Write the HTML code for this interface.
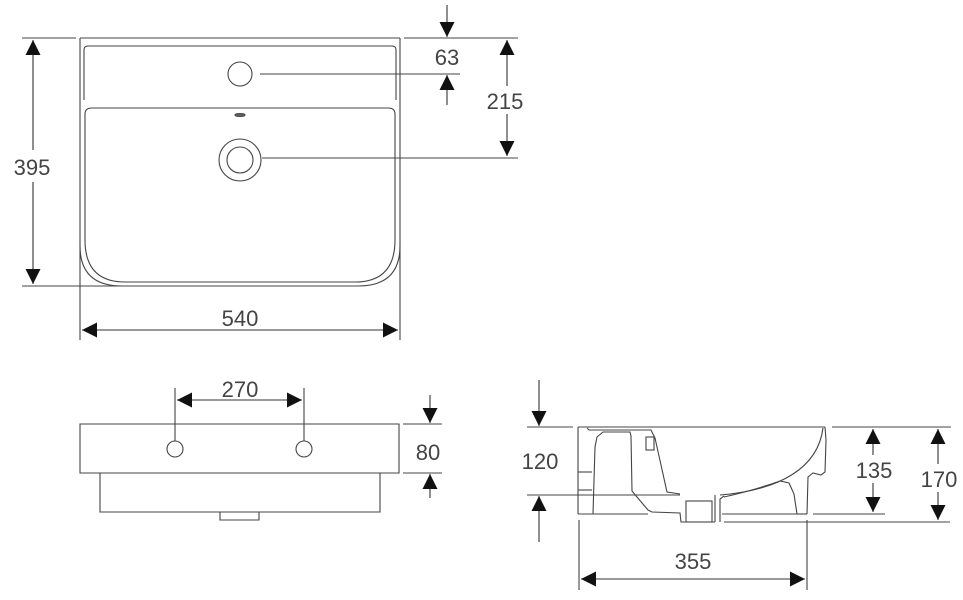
<!DOCTYPE html>
<html><head><meta charset="utf-8"><style>
html,body{margin:0;padding:0;background:#fff;}
svg{display:block}
text{font-family:"Liberation Sans Narrow","Liberation Sans",sans-serif;font-size:22px;fill:#444;text-anchor:middle;}
</style></head><body>
<svg width="963" height="600" viewBox="0 0 963 600" xmlns="http://www.w3.org/2000/svg">
<defs>
<marker id="b" viewBox="0 0 10 10" refX="10" refY="5" markerWidth="18" markerHeight="15" markerUnits="userSpaceOnUse" orient="auto-start-reverse">
<path d="M0,0 L10,5 L0,10 Z" fill="#111"/></marker>
</defs>
<g fill="none" stroke="#444" stroke-width="1.1">
<!-- top view -->
<line x1="80" y1="38" x2="80" y2="340"/>
<line x1="400" y1="38" x2="400" y2="340"/>
<line x1="80" y1="38" x2="400" y2="38"/>
<path d="M80,246 Q80,286 122,286 L358,286 Q400,286 400,246"/>
<path d="M84,50 Q84,46 88,46 L392,46 Q396,46 396,50 L396,100"/>
<line x1="84" y1="50" x2="84" y2="100"/>
<path d="M85,114 Q85,108 92,108 L388,108 Q395,108 395,114 L395,240 Q395,282 355,282 L125,282 Q85,282 85,240 Z"/>
<circle cx="240" cy="74" r="12"/>
<circle cx="240" cy="160" r="21"/>
<circle cx="240" cy="160" r="13"/>
<ellipse cx="240" cy="115" rx="5" ry="1.5" fill="#666"/>
<line x1="22" y1="38" x2="76" y2="38"/>
<line x1="22" y1="286" x2="190" y2="286"/>
<line x1="404" y1="38" x2="518" y2="38"/>
<line x1="262" y1="158" x2="518" y2="158"/>
<line x1="260" y1="74" x2="460" y2="74"/>
<!-- front view -->
<path d="M80,424 L399,424 L399,473 L80,473 Z"/>
<path d="M100,473 L100,512 L380,512 L380,473"/>
<path d="M220,512 L220,520 L259,520 L259,512"/>
<circle cx="175" cy="449" r="8"/>
<circle cx="304" cy="449" r="8"/>
<line x1="175" y1="388" x2="175" y2="441"/>
<line x1="304" y1="388" x2="304" y2="441"/>
<line x1="403" y1="424" x2="442" y2="424"/>
<line x1="403" y1="473" x2="442" y2="473"/>
<!-- side view -->
<line x1="578" y1="427" x2="825" y2="427"/>
<line x1="578" y1="427" x2="578" y2="514"/>
<line x1="578" y1="514" x2="648" y2="514"/>
<path d="M587,428 L589,430 L651,430 L655,438 L667,492 L680,494"/>
<rect x="646" y="437" width="8" height="13"/>
<path d="M593,514 L595,447 L597,437 L603,432 L630,432 L631,436 L632,491 L637,497 L648,510 L652,512 L680,513 L681,522 L715,522"/>
<rect x="686" y="501" width="26" height="21"/>
<line x1="715" y1="495" x2="715" y2="522"/>
<path d="M720,522 L720,499 L724,496"/>
<line x1="578" y1="472" x2="592" y2="472"/>
<line x1="578" y1="490" x2="592" y2="490"/>
<path d="M823,428 C818,468 780,490 720,495"/>
<path d="M825,427 L826,440 L825,472 L821,475 L813,473 L808,477 L807,514"/>
<path d="M722,514 L797,514 L794,494 L789,483 L780,481 Q755,490 724,497"/>
<line x1="797" y1="514" x2="807" y2="514"/>
<line x1="527" y1="427" x2="573" y2="427"/>
<line x1="527" y1="495" x2="680" y2="495"/>
<line x1="832" y1="427" x2="951" y2="427"/>
<line x1="813" y1="514" x2="885" y2="514"/>
<line x1="724" y1="522" x2="950" y2="522"/>
<line x1="579" y1="520" x2="579" y2="590"/>
<line x1="807" y1="520" x2="807" y2="590"/>
</g>
<g stroke="#333" stroke-width="1.1" fill="none">
<line x1="33" y1="40" x2="33" y2="284" marker-start="url(#b)" marker-end="url(#b)"/>
<line x1="82" y1="330" x2="398" y2="330" marker-start="url(#b)" marker-end="url(#b)"/>
<line x1="507" y1="40" x2="507" y2="156" marker-start="url(#b)" marker-end="url(#b)"/>
<line x1="447" y1="5" x2="447" y2="37" marker-end="url(#b)"/>
<line x1="447" y1="105" x2="447" y2="75" marker-end="url(#b)"/>
<line x1="177" y1="400" x2="302" y2="400" marker-start="url(#b)" marker-end="url(#b)"/>
<line x1="430" y1="395" x2="430" y2="423" marker-end="url(#b)"/>
<line x1="430" y1="498" x2="430" y2="474" marker-end="url(#b)"/>
<line x1="539" y1="380" x2="539" y2="426" marker-end="url(#b)"/>
<line x1="539" y1="542" x2="539" y2="496" marker-end="url(#b)"/>
<line x1="873" y1="429" x2="873" y2="512" marker-start="url(#b)" marker-end="url(#b)"/>
<line x1="938" y1="429" x2="938" y2="520" marker-start="url(#b)" marker-end="url(#b)"/>
<line x1="581" y1="579" x2="805" y2="579" marker-start="url(#b)" marker-end="url(#b)"/>
</g>
<g>
<rect x="16" y="150" width="34" height="32" fill="#fff"/>
<text x="32" y="175">395</text>
<text x="240" y="326">540</text>
<rect x="488" y="86" width="38" height="28" fill="#fff"/>
<text x="505" y="109">215</text>
<text x="447" y="65">63</text>
<text x="240" y="397">270</text>
<text x="428" y="460">80</text>
<rect x="520" y="446" width="40" height="28" fill="#fff"/>
<text x="540" y="469">120</text>
<rect x="856" y="455" width="36" height="28" fill="#fff"/>
<text x="874" y="478">135</text>
<rect x="920" y="464" width="36" height="28" fill="#fff"/>
<text x="939" y="487">170</text>
<text x="693" y="569">355</text>
</g>
</svg>
</body></html>
